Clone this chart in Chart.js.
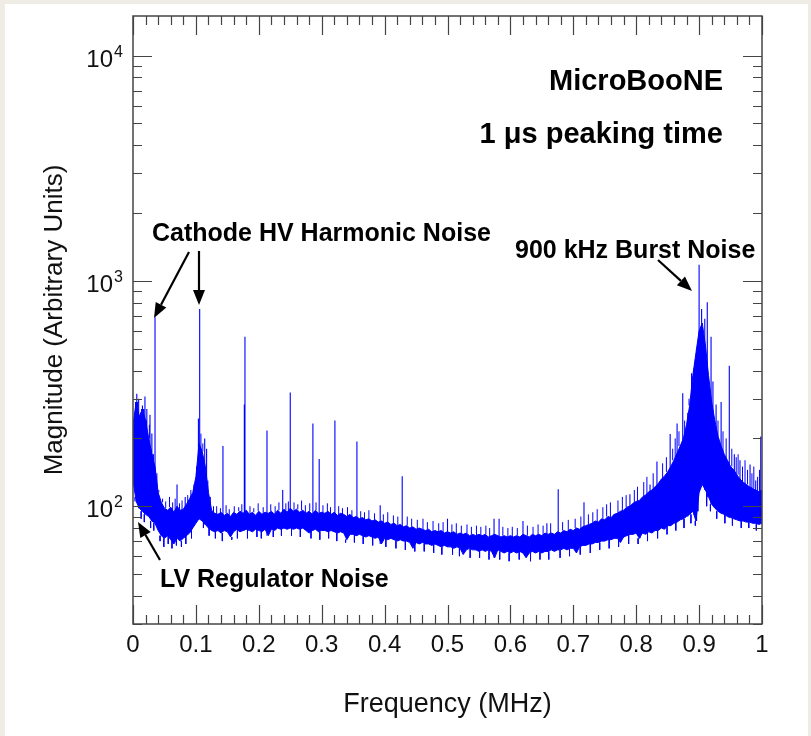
<!DOCTYPE html>
<html lang='en'>
  <head>
    <title>MicroBooNE noise spectrum</title>
    <meta charset='UTF-8'>
    <script src='https://cdn.jsdelivr.net/npm/chart.js@4.4.0/dist/chart.umd.min.js'></script>
    <style>
      html, body { margin: 0; padding: 0; background: #efece5; }
      canvas { display: block; }
    </style>
  </head>
  <body>
    <canvas id='spectrum' width='811' height='736'></canvas>
    <script>
      // Frequency grid of the noise band (MHz), one sample every 5 kHz
      const bandStep = 0.005;

      // Lower / upper edge of the dense noise band
      const bandLow = [
        130,105, 98, 95, 92, 90, 86, 84, 78, 74,
         72, 74, 71, 68, 72, 70, 72, 74, 76, 80,
         84, 88, 86, 83, 80, 78, 77, 78, 76, 78,
         77, 73, 77, 79, 77, 78, 79, 78, 77, 79,
         78, 77, 79, 74, 79, 78, 80, 79, 80, 79,
         80, 79, 80, 79, 80, 78, 76, 78, 79, 77,
         78, 78, 77, 78, 77, 76, 77, 76, 71, 75,
         75, 74, 75, 74, 73, 74, 73, 72, 73, 68,
         72, 71, 72, 71, 70, 71, 70, 70, 69, 65,
         69, 68, 69, 68, 68, 67, 68, 67, 66, 67,
         66, 66, 65, 66, 65, 61, 64, 65, 64, 64,
         63, 64, 63, 64, 63, 59, 64, 63, 62, 63,
         62, 63, 62, 63, 62, 59, 62, 63, 62, 63,
         62, 63, 63, 64, 63, 64, 64, 65, 64, 65,
         65, 62, 66, 67, 67, 68, 68, 69, 69, 70,
         70, 71, 71, 72, 72, 69, 73, 74, 75, 75,
         76, 72, 76, 75, 77, 76, 78, 78, 80, 79,
         82, 82, 84, 85, 87, 88, 90, 92, 95, 86,
        115,125,118,110,102, 98, 95, 93, 92, 90,
         89, 88, 87, 86, 86, 85, 85, 84, 84, 83,
         84
      ];
      const bandHigh = [
        230,290,250,270,240,200,170,150,115,104,
         98, 96, 99, 94,100, 96, 97,102,108,115,
        135,190,175,150,115, 96, 93, 92, 94, 91,
         93, 90, 94, 92, 95, 93, 96, 92, 94, 91,
         95, 92, 94, 93, 95, 92, 96, 93, 97, 94,
         98, 95, 97, 94, 96, 93, 95, 92, 96, 93,
         94, 93, 95, 92, 94, 91, 93, 92, 90, 92,
         89, 90, 88, 89, 87, 88, 86, 87, 85, 86,
         84, 85, 83, 84, 82, 83, 81, 82, 80, 81,
         79, 80, 79, 78, 79, 77, 78, 77, 78, 76,
         77, 76, 77, 75, 76, 75, 76, 74, 75, 74,
         75, 74, 75, 73, 74, 75, 74, 73, 74, 73,
         74, 73, 74, 73, 75, 74, 73, 75, 74, 75,
         74, 76, 75, 76, 75, 77, 76, 78, 77, 79,
         78, 80, 79, 81, 82, 83, 84, 86, 85, 88,
         87, 90, 89, 92, 93, 95, 96, 99,100,103,
        105,106,110,112,116,118,122,126,132,136,
        142,150,160,172,185,200,230,280,380,480,
        600,650,520,380,290,240,205,185,170,160,
        150,145,138,132,128,125,122,120,118,116,
        118
      ];

      // Narrow lines sticking out of the band: frequency (MHz) and peak height
      const spikeFreq = [
        0.002, 0.006, 0.009, 0.012, 0.015, 0.019, 0.022, 0.027, 0.030, 0.035,
        0.070, 0.083, 0.104, 0.106, 0.114, 0.117, 0.143, 0.177, 0.178, 0.213,
        0.238, 0.250, 0.286, 0.296, 0.321, 0.356, 0.393, 0.428, 0.500, 0.574,
        0.582, 0.620, 0.658, 0.676, 0.717, 0.765, 0.790, 0.806, 0.822, 0.833,
        0.854, 0.865, 0.874, 0.882, 0.888, 0.892, 0.896, 0.900, 0.904, 0.909,
        0.913, 0.919, 0.922, 0.927, 0.935, 0.948, 0.956, 0.965, 0.981, 0.990,
        0.998
      ];
      const spikeTop = [
        230, 316, 300, 260, 280, 307, 270, 255, 210, 690,
        125, 110, 245, 750, 200, 180, 185, 283, 565, 217,
        118, 320, 233, 162, 240, 194, 101, 136,  88,  88,
         88,  86,  84, 119, 104,  92, 113, 105, 125, 158,
        209, 233, 317, 260, 389, 410, 475,1180, 750, 680,
        805, 565, 358, 283, 290, 420, 170, 160, 153, 130,
        204
      ];

      // Short noise hairs above the band (frequency, top)
      const hairUpFreq = [
        0.004, 0.007, 0.011, 0.014, 0.017, 0.021, 0.024, 0.026, 0.029, 0.032,
        0.038, 0.041, 0.047, 0.052, 0.058, 0.063, 0.067, 0.074, 0.078, 0.087,
        0.092, 0.097, 0.101, 0.108, 0.111, 0.119, 0.123, 0.128, 0.133, 0.139,
        0.148, 0.153, 0.161, 0.168, 0.173, 0.186, 0.192, 0.199, 0.207, 0.219,
        0.226, 0.232, 0.243, 0.247, 0.256, 0.262, 0.268, 0.274, 0.281, 0.291,
        0.302, 0.309, 0.314, 0.327, 0.333, 0.341, 0.348, 0.362, 0.368, 0.375,
        0.384, 0.398, 0.405, 0.414, 0.421, 0.436, 0.443, 0.452, 0.461, 0.468,
        0.477, 0.486, 0.493, 0.507, 0.514, 0.522, 0.531, 0.538, 0.546, 0.553,
        0.561, 0.567, 0.588, 0.596, 0.603, 0.611, 0.627, 0.636, 0.644, 0.652,
        0.664, 0.683, 0.692, 0.703, 0.712, 0.724, 0.731, 0.738, 0.747, 0.753,
        0.759, 0.771, 0.778, 0.784, 0.797, 0.802, 0.812, 0.817, 0.827, 0.842,
        0.848, 0.858, 0.862, 0.868, 0.877, 0.884, 0.930, 0.938, 0.943, 0.952,
        0.959, 0.962, 0.969, 0.973, 0.977, 0.984, 0.987, 0.993, 0.996
      ];
      const hairUpTop = [
        260, 240, 220, 250, 230, 200, 190, 230, 180, 160,
        140, 118, 108, 105, 110, 104, 108, 103, 106, 112,
        118, 125, 150, 210, 190, 130, 110, 100, 100,  98,
        101,  97, 100,  99, 102, 100,  98, 103,  99, 102,
        100, 104, 103, 105, 104, 102, 106, 101, 103, 104,
        101, 103,  99, 100,  98,  99,  96,  95,  94,  96,
         93,  92,  94,  91,  90,  90,  88,  87,  88,  85,
         86,  84,  85,  83,  84,  82,  83,  81,  82,  81,
         82,  80,  81,  80,  81,  80,  82,  81,  83,  82,
         84,  85,  87,  88,  90,  92,  94,  97,  99, 102,
        104, 106, 110, 112, 118, 122, 128, 135, 140, 155,
        165, 180, 200, 215, 240, 300, 240, 215, 200, 180,
        165, 170, 150, 160, 145, 140, 150, 135, 145
      ];

      // Short noise hairs below the band (frequency, bottom)
      const hairDownFreq = [
        0.003, 0.013, 0.018, 0.028, 0.033, 0.043, 0.049, 0.056, 0.062, 0.069,
        0.077, 0.084, 0.093, 0.112, 0.121, 0.131, 0.142, 0.157, 0.166, 0.182,
        0.197, 0.204, 0.223, 0.236, 0.252, 0.266, 0.283, 0.297, 0.311, 0.324,
        0.338, 0.352, 0.366, 0.381, 0.402, 0.418, 0.433, 0.448, 0.463, 0.478,
        0.491, 0.508, 0.519, 0.536, 0.551, 0.566, 0.583, 0.598, 0.614, 0.632,
        0.647, 0.661, 0.679, 0.694, 0.711, 0.727, 0.742, 0.757, 0.772, 0.788,
        0.803, 0.818, 0.834, 0.849, 0.863, 0.876, 0.887, 0.894, 0.898, 0.912,
        0.918, 0.928, 0.941, 0.953, 0.967, 0.979, 0.991
      ];
      const hairDownBottom = [
        110,  88,  85,  80,  78,  70,  66,  68,  65,  67,
         66,  68,  72,  80,  74,  72,  70,  71,  72,  72,
         73,  72,  73,  74,  74,  73,  72,  71,  72,  70,
         69,  69,  68,  67,  66,  65,  64,  63,  63,  62,
         61,  61,  60,  59,  59,  58,  58,  57,  58,  57,
         58,  58,  59,  60,  61,  62,  64,  65,  66,  68,
         68,  70,  72,  75,  78,  80,  84,  82,  95, 100,
         95,  88,  84,  82,  80,  80,  78
      ];

      const xTickValues = [0, 0.1, 0.2, 0.3, 0.4, 0.5, 0.6, 0.7, 0.8, 0.9, 1];
      const xTickLabels = ['0', '0.1', '0.2', '0.3', '0.4', '0.5', '0.6', '0.7', '0.8', '0.9', '1'];
      const yDecades = [2, 3, 4];

      const FONT = "'Liberation Sans', Arial, Helvetica, sans-serif";

      let lowPoints = bandLow.map((v, i) => ({x: +(i * bandStep).toFixed(3), y: v}));
      let highPoints = bandHigh.map((v, i) => ({x: +(i * bandStep).toFixed(3), y: v}));

      // vertical segments that start on the band edge
      function segments(freqs, ends, edge) {
        let pts = [];
        freqs.forEach((f, i) => {
          let base = edge[Math.round(f / bandStep)];
          pts.push({x: f, y: base}, {x: f, y: ends[i]}, {x: f, y: null});
        });
        return pts;
      }
      let spikePoints = segments(spikeFreq, spikeTop, bandLow);
      let hairPoints = segments(hairUpFreq, hairUpTop, bandHigh)
        .concat(segments(hairDownFreq, hairDownBottom, bandLow));

      function drawArrow(ctx, x1, y1, x2, y2) {
        let ang = Math.atan2(y2 - y1, x2 - x1);
        let head = 15, half = 6;
        let bx = x2 - head * Math.cos(ang), by = y2 - head * Math.sin(ang);
        ctx.beginPath();
        ctx.moveTo(x1, y1);
        ctx.lineTo(bx, by);
        ctx.stroke();
        ctx.beginPath();
        ctx.moveTo(x2, y2);
        ctx.lineTo(bx + half * Math.sin(ang), by - half * Math.cos(ang));
        ctx.lineTo(bx - half * Math.sin(ang), by + half * Math.cos(ang));
        ctx.closePath();
        ctx.fill();
      }

      const background = {
        id: 'background',
        beforeDraw(chart) {
          let ctx = chart.ctx;
          ctx.save();
          ctx.fillStyle = '#efece5';
          ctx.fillRect(0, 0, chart.width, chart.height);
          ctx.fillStyle = '#ffffff';
          ctx.fillRect(5, 4, chart.width - 8, chart.height - 4);
          ctx.restore();
        }
      };

      const frame = {
        id: 'frame',
        afterDraw(chart) {
          let {ctx, chartArea: a, scales: {x, y}} = chart;
          ctx.save();

          // box
          ctx.strokeStyle = '#444';
          ctx.lineWidth = 1.5;
          ctx.strokeRect(a.left, a.top, a.right - a.left, a.bottom - a.top);

          // x ticks, inward on bottom and top
          ctx.lineWidth = 1.2;
          ctx.beginPath();
          for (let i = 0; i <= 50; i++) {
            let px = Math.round(x.getPixelForValue(i / 50)) + 0.5;
            let len = i % 5 === 0 ? 19 : 9;
            ctx.moveTo(px, a.bottom); ctx.lineTo(px, a.bottom - len);
            ctx.moveTo(px, a.top); ctx.lineTo(px, a.top + len);
          }
          // y ticks, inward on left and right
          for (let e = 1; e <= 4; e++) {
            for (let m = 1; m <= 9; m++) {
              let v = m * Math.pow(10, e);
              if (v < y.min || v > y.max) continue;
              let py = Math.round(y.getPixelForValue(v)) + 0.5;
              let len = m === 1 ? 19 : 9;
              ctx.moveTo(a.left, py); ctx.lineTo(a.left + len, py);
              ctx.moveTo(a.right, py); ctx.lineTo(a.right - len, py);
            }
          }
          ctx.stroke();

          // tick labels
          ctx.fillStyle = '#111';
          ctx.textBaseline = 'alphabetic';
          ctx.font = '24px ' + FONT;
          ctx.textAlign = 'center';
          xTickValues.forEach((v, i) => {
            ctx.fillText(xTickLabels[i], x.getPixelForValue(v), a.bottom + 28);
          });
          yDecades.forEach(e => {
            let py = y.getPixelForValue(Math.pow(10, e));
            ctx.font = '24px ' + FONT;
            ctx.textAlign = 'right';
            ctx.fillText('10', a.left - 20, py + 11);
            ctx.font = '16px ' + FONT;
            ctx.textAlign = 'left';
            ctx.fillText(String(e), a.left - 19, py + 1);
          });

          // axis titles
          ctx.font = '27px ' + FONT;
          ctx.textAlign = 'center';
          ctx.fillText('Frequency (MHz)', (a.left + a.right) / 2, 712);
          ctx.save();
          ctx.font = '26px ' + FONT;
          ctx.translate(55, (a.top + a.bottom) / 2);
          ctx.rotate(-Math.PI / 2);
          ctx.textBaseline = 'middle';
          ctx.fillText('Magnitude (Arbitrary Units)', 0, 0);
          ctx.restore();

          // labels inside the plot
          ctx.fillStyle = '#000';
          ctx.font = 'bold 29px ' + FONT;
          ctx.textAlign = 'right';
          ctx.fillText('MicroBooNE', 723, 90);
          ctx.fillText('1 \u03bcs peaking time', 723, 143);
          ctx.font = 'bold 25px ' + FONT;
          ctx.textAlign = 'left';
          ctx.fillText('Cathode HV Harmonic Noise', 152, 241);
          ctx.fillText('900 kHz Burst Noise', 515, 258);
          ctx.fillText('LV Regulator Noise', 160, 587);

          // arrows
          ctx.strokeStyle = '#000';
          ctx.lineWidth = 2.2;
          drawArrow(ctx, 189, 252, 154, 318);
          drawArrow(ctx, 199, 251, 199, 305);
          drawArrow(ctx, 658, 260, 692, 291);
          drawArrow(ctx, 160, 560, 138, 522);

          ctx.restore();
        }
      };

      let ctx = document.getElementById('spectrum').getContext('2d');
      let spectrumChart = new Chart(ctx, {
        type: 'line',
        data: {
          datasets: [
            {
              label: 'band low',
              data: lowPoints,
              borderColor: '#0000ff',
              borderWidth: 1,
              pointRadius: 0,
              fill: false,
            },
            {
              label: 'band high',
              data: highPoints,
              borderColor: '#0000ff',
              backgroundColor: '#0000ff',
              borderWidth: 1,
              pointRadius: 0,
              fill: '-1',
            },
            {
              label: 'hairs',
              data: hairPoints,
              borderColor: '#0000ff',
              borderWidth: 1,
              pointRadius: 0,
              spanGaps: false,
              fill: false,
            },
            {
              label: 'spikes',
              data: spikePoints,
              borderColor: '#0000ff',
              borderWidth: 1.1,
              pointRadius: 0,
              spanGaps: false,
              fill: false,
            },
          ],
        },
        options: {
          responsive: false,
          animation: false,
          layout: { padding: { left: 133, top: 16, right: 49, bottom: 112 } },
          plugins: {
            legend: { display: false },
            tooltip: { enabled: false },
          },
          scales: {
            x: { type: 'linear', min: 0, max: 1, display: false },
            y: { type: 'logarithmic', min: 30, max: 15000, display: false },
          },
        },
        plugins: [background, frame],
      });
    </script>
  </body>
</html>
